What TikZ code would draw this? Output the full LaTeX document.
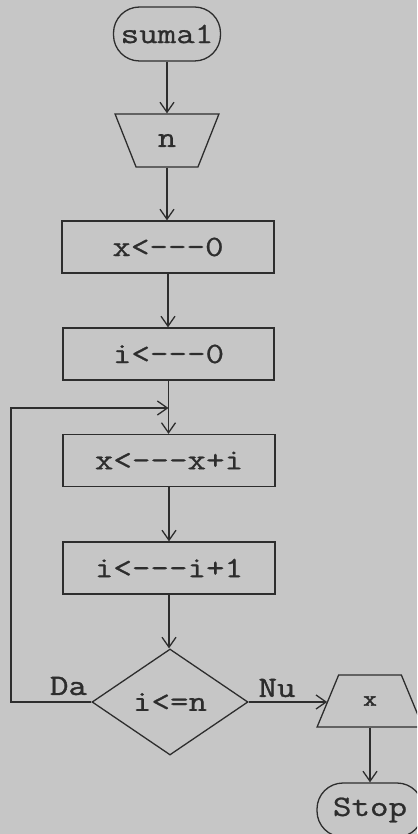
\documentclass[tikz,border=0pt]{standalone}
\usepackage{fontspec}
\newfontfamily\courfont[FakeStretch=1.22,FakeBold=0.8]{Latin Modern Mono}
\newfontfamily\courbold[FakeStretch=1.22,FakeBold=1.3]{Latin Modern Mono}
\newfontfamily\courheavy[FakeStretch=1.22,FakeBold=2.2]{Latin Modern Mono}
\usetikzlibrary{shapes.geometric,arrows.meta}
\definecolor{paper}{RGB}{198,198,198}
\definecolor{ink}{RGB}{45,45,45}
\tikzset{
  base/.style={draw=ink, line width=1.3pt, text=ink, inner sep=0pt,
    font=\courfont\fontsize{29.5}{29.5}\selectfont},
  procbox/.style={base, rectangle, minimum height=52pt},
  termbox/.style={base, rectangle, rounded corners=26pt, minimum width=107pt, minimum height=54pt},
  inbox/.style={base, trapezium, trapezium stretches=true, trapezium angle=64,
    shape border rotate=180, minimum width=104pt, minimum height=53pt},
  outbox/.style={base, trapezium, trapezium stretches=true, trapezium angle=63.4,
    minimum width=106pt, minimum height=52pt},
  decbox/.style={base, diamond, aspect=1.47, minimum width=156pt, minimum height=106pt},
  arr/.style={draw=ink, line width=1.3pt, -{Straight Barb[length=10pt,width=14pt,line width=1.3pt]}},
  lbl/.style={text=ink, inner sep=0pt, font=\courbold\fontsize{29.5}{29.5}\selectfont}
}
\begin{document}
\begin{tikzpicture}[x=1pt,y=-1pt]
\useasboundingbox (0,0) rectangle (417,834);
\clip (0,0) rectangle (417,834);
\fill[paper] (0,0) rectangle (417,834);

\node[termbox] (start) at (167,34) {suma1};
\node[inbox] (in) at (167,140.5) {n};
\node[procbox, minimum width=212pt] (b1) at (168,247) {x<---0};
\node[procbox, minimum width=211pt] (b2) at (168.5,354) {i<---0};
\node[procbox, minimum width=212pt] (b3) at (169,460.5) {x<---x+i};
\node[procbox, minimum width=212pt] (b4) at (169,568) {i<---i+1};
\node[decbox] (dec) at (170,702) {i<=n};
\node[outbox, font=\courheavy\fontsize{22}{22}\selectfont] (out) at (370,701) {x};
\node[termbox, minimum width=106pt] (stop) at (370,810) {Stop};

\node[lbl] (da) at (68.5,686) {Da};
\node[lbl] (nu) at (277,688) {Nu};

\coordinate (lc) at (11,408);
\coordinate (j) at (b2.south |- lc);

\draw[arr] (start.south) -- (start.south |- in.north);
\draw[arr] (in.south) -- (in.south |- b1.north);
\draw[arr] (b1.south) -- (b1.south |- b2.north);
\draw[arr] (b2.south) -- (b2.south |- b3.north);
\draw[arr] (b3.south) -- (b3.south |- b4.north);
\draw[arr] (b4.south) -- (b4.south |- dec.north);
\draw[arr] (dec.west) -| (lc) -- (j);
\draw[arr] (dec.east) -- (dec.east -| out.west);
\draw[arr] (out.south) -- (out.south |- stop.north);
\end{tikzpicture}
\end{document}
